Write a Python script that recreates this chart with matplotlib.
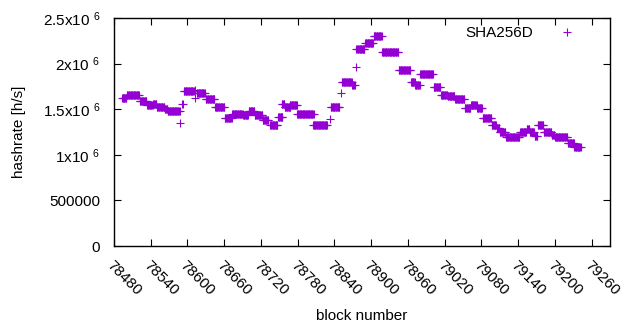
import numpy as np
import matplotlib.pyplot as plt

plt.rcParams['font.family'] = ['Liberation Sans', 'DejaVu Sans']
plt.rcParams['mathtext.default'] = 'regular'
plt.rcParams['font.size'] = 11

# runs of constant hashrate estimate: first block, stop block (exclusive), rate [h/s]
run_start = [78493, 78501, 78522, 78534, 78544, 78550, 78563, 78568, 78588, 78591,
             78594, 78612, 78612, 78615, 78630, 78645, 78661, 78673, 78691, 78700,
             78710, 78723, 78735, 78748, 78754, 78759, 78767, 78779, 78805, 78833,
             78834, 78851, 78852, 78869, 78875, 78876, 78890, 78904, 78918, 78945,
             78965, 78972, 78980, 79002, 79014, 79025, 79037, 79053, 79063, 79073,
             79082, 79097, 79105, 79110, 79120, 79143, 79154, 79159, 79167, 79172,
             79182, 79195, 79200, 79221, 79232]
run_stop = [78501, 78522, 78534, 78544, 78550, 78563, 78568, 78588, 78589, 78593,
            78611, 78613, 78613, 78629, 78645, 78661, 78673, 78691, 78700, 78710,
            78723, 78733, 78748, 78756, 78759, 78769, 78780, 78807, 78829, 78834,
            78849, 78852, 78869, 78874, 78876, 78890, 78904, 78918, 78945, 78965,
            78972, 78980, 79002, 79014, 79025, 79037, 79053, 79063, 79073, 79082,
            79097, 79105, 79110, 79120, 79143, 79154, 79159, 79167, 79172, 79182,
            79195, 79200, 79221, 79232, 79243]
run_rate = [1.623e6, 1.66e6, 1.585e6, 1.546e6, 1.56e6, 1.52e6, 1.50e6, 1.48e6, 1.35e6, 1.56e6,
            1.70e6, 1.71e6, 1.62e6, 1.68e6, 1.617e6, 1.52e6, 1.40e6, 1.45e6, 1.44e6, 1.48e6,
            1.44e6, 1.38e6, 1.33e6, 1.41e6, 1.56e6, 1.525e6, 1.546e6, 1.45e6, 1.33e6, 1.39e6,
            1.525e6, 1.68e6, 1.80e6, 1.77e6, 1.96e6, 2.155e6, 2.23e6, 2.30e6, 2.13e6, 1.935e6,
            1.80e6, 1.76e6, 1.89e6, 1.74e6, 1.66e6, 1.65e6, 1.61e6, 1.51e6, 1.546e6, 1.51e6,
            1.40e6, 1.33e6, 1.29e6, 1.255e6, 1.19e6, 1.25e6, 1.28e6, 1.25e6, 1.21e6, 1.33e6,
            1.255e6, 1.22e6, 1.19e6, 1.125e6, 1.09e6]

xticks = list(range(78480, 79261, 60))
yticks = [0, 500000, 1000000, 1500000, 2000000, 2500000]
ylabels = ['0', '500000', r'1x10 $^{6}$', r'1.5x10 $^{6}$', r'2x10 $^{6}$', r'2.5x10 $^{6}$']

blocks = np.concatenate([np.arange(a, b) for a, b in zip(run_start, run_stop)])
rates = np.concatenate([np.full(b - a, v) for a, b, v in zip(run_start, run_stop, run_rate)])

fig = plt.figure(figsize=(6.4, 3.3), dpi=100)
ax = fig.add_axes([114 / 640, 84 / 330, 496 / 640, 228 / 330])

ax.plot(blocks, rates, '+', color='#9400d3', ms=5.2, mew=0.8, label='SHA256D')

ax.set_xlim(78480, 79290)
ax.set_ylim(0, 2.5e6)
ax.set_xticks(xticks)
ax.set_xticklabels([str(t) for t in xticks], rotation=-45, ha='left', va='top',
                   rotation_mode='anchor')
ax.set_yticks(yticks)
ax.set_yticklabels(ylabels)
ax.tick_params(direction='in', length=5, width=0.8, top=True, right=True, colors='black')
ax.tick_params(axis='y', pad=10)
ax.tick_params(axis='x', pad=9)
for s in ax.spines.values():
    s.set_linewidth(1.0)

ax.set_xlabel('block number', labelpad=8)
ax.set_ylabel('hashrate [h/s]', labelpad=12)

ax.legend(loc='upper right', bbox_to_anchor=(0.9435, 0.965), markerfirst=False,
          frameon=False, borderpad=0, borderaxespad=0, handlelength=2.0,
          handletextpad=1.2, numpoints=1)

fig.savefig('out.png', dpi=100)
